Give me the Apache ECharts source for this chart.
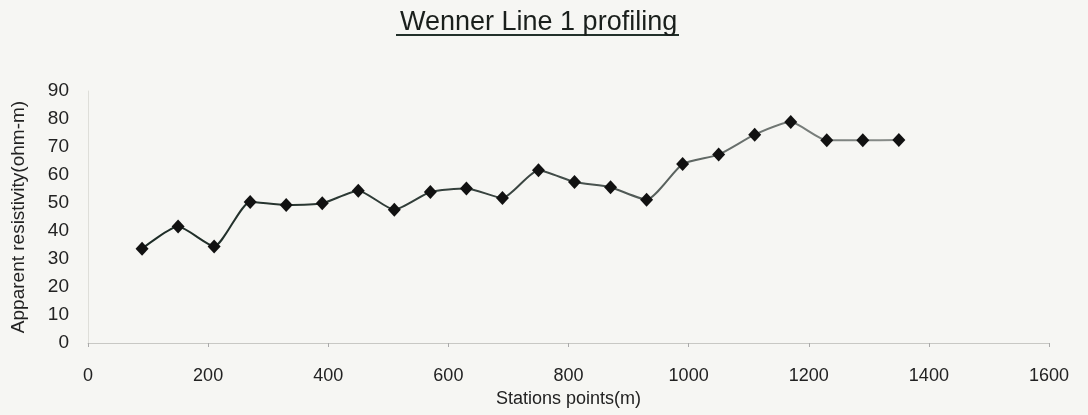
<!DOCTYPE html>
<html>
<head>
<meta charset="utf-8">
<script src="https://cdn.jsdelivr.net/npm/echarts@6/dist/echarts.min.js"></script>
<style>
html,body{margin:0;padding:0;background:#f6f6f3;}
#chart{width:1088px;height:415px;}
</style>
</head>
<body>
<div id="chart"></div>
<script>
const titleText = 'Wenner Line 1 profiling';
const xAxisName = 'Stations points(m)';
const yAxisName = 'Apparent resistivity(ohm-m)';
const stations = [90,150,210,270,330,390,450,510,570,630,690,750,810,870,930,990,1050,1110,1170,1230,1290,1350];
const resistivity = [33.7,41.6,34.5,50.4,49.3,49.9,54.4,47.6,53.9,55.2,51.8,61.7,57.5,55.6,51.2,63.9,67.3,74.4,78.9,72.4,72.4,72.5];

const chart = echarts.init(document.getElementById('chart'), null, {renderer:'canvas'});
const pts = stations.map((s,i)=>[s, resistivity[i]]);
const font = 'Liberation Sans, Arial, sans-serif';
chart.setOption({
  backgroundColor:'#f6f6f3',
  animation:false,
  title:{
    text:titleText, left:395, top:4,
    textStyle:{fontFamily:font, fontSize:27, fontWeight:'normal', color:'#1a1f1c'}
  },
  graphic:[{
    type:'rect', left:396, top:34,
    shape:{width:283, height:2},
    style:{fill:'#22302a'}
  }],
  grid:{left:88, right:39, top:91, bottom:72, outerBoundsMode:'none', containLabel:false},
  xAxis:{
    type:'value', min:0, max:1600, interval:200,
    name:xAxisName, nameLocation:'middle', nameGap:47,
    nameTextStyle:{fontFamily:font, fontSize:18, color:'#222'},
    axisLine:{show:true, lineStyle:{color:'#c8c8c4', width:1}},
    axisTick:{show:true, inside:false, length:4, lineStyle:{color:'#aaa'}},
    axisLabel:{fontFamily:font, fontSize:18, color:'#222', margin:24, formatter:(v)=>String(v)},
    splitLine:{show:false}
  },
  yAxis:{
    type:'value', min:0, max:90, interval:10,
    name:yAxisName, nameLocation:'middle', nameGap:60, nameRotate:90,
    nameTextStyle:{fontFamily:font, fontSize:19, color:'#222'},
    axisLine:{show:true, lineStyle:{color:'#deded9', width:1}},
    axisTick:{show:false},
    axisLabel:{fontFamily:font, fontSize:19, color:'#222', margin:19},
    splitLine:{show:false}
  },
  series:[{
    type:'line',
    data:pts,
    smooth:0.2,
    symbol:'diamond',
    symbolSize:[13,14],
    itemStyle:{color:'#111'},
    lineStyle:{width:2, color:{type:'linear', x:0, y:0, x2:1, y2:0, colorStops:[
      {offset:0, color:'#1c2b25'},{offset:0.5, color:'#3a4541'},{offset:1, color:'#8b8f8c'}]}}
  }]
});
</script>
</body>
</html>
